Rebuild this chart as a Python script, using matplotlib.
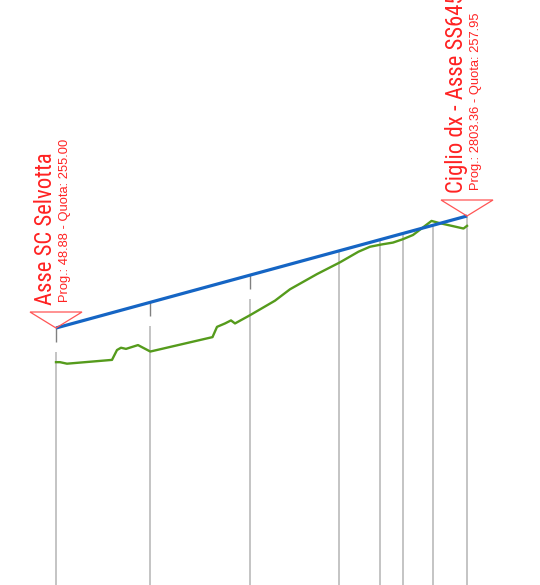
import matplotlib
matplotlib.use("Agg")
import matplotlib.pyplot as plt
from matplotlib.transforms import offset_copy
from matplotlib.patches import Polygon
from matplotlib import font_manager

# ---- data ----
# design line (blue): progressive (m) and elevation (m)
design_prog = [48.88, 2803.36]
design_quota = [255.00, 257.95]

# terrain profile (green)
terrain_prog = [48.88, 75.7, 122.6, 424.2, 457.7, 484.5, 518.0, 598.4, 680.9,
                1097.7, 1127.9, 1181.5, 1221.7, 1248.5, 1350.4, 1516.6, 1617.1,
                1798.0, 1952.2, 2076.2, 2153.0, 2230.4, 2307.5, 2374.5, 2441.5,
                2565.6, 2622.5, 2780.0, 2803.36]
terrain_quota = [254.10, 254.10, 254.06, 254.16, 254.42, 254.48, 254.45, 254.55, 254.38,
                 254.76, 255.03, 255.12, 255.20, 255.12, 255.34, 255.72, 256.02,
                 256.42, 256.73, 257.01, 257.14, 257.20, 257.25, 257.34, 257.45,
                 257.82, 257.76, 257.62, 257.69]

# stations (vertical grid lines)
station_prog = [48.88, 680.9, 1350.4, 1943.5, 2221.6, 2371.1, 2573.5, 2803.36]
gapped_stations = [48.88, 680.9, 1350.4]

# end labels
label_titles = ["Asse SC Selvotta", "Ciglio dx - Asse SS645"]
label_prog = [48.88, 2803.36]
label_quota = [255.00, 257.95]

# ---- pick a narrow font if one is installed ----
installed = {f.name for f in font_manager.fontManager.ttflist}
narrow_family = "Liberation Sans"
narrow_stretch = "normal"
for name in ["Liberation Sans Narrow", "Arial Narrow", "Roboto Condensed",
             "Open Sans Condensed", "Noto Sans Display Condensed"]:
    if name in installed:
        narrow_family = name
        break
else:
    for f in font_manager.fontManager.ttflist:
        if f.name in ("Noto Sans", "Open Sans", "Roboto") and \
                str(f.stretch) in ("condensed", "semi-condensed", "extra-condensed", "75", "87.5"):
            narrow_family = f.name
            narrow_stretch = "condensed"
            break

# ---- figure ----
W, H, DPI = 540, 585, 100
fig = plt.figure(figsize=(W / DPI, H / DPI), dpi=DPI)
ax = fig.add_axes([0, 0, 1, 1])
ax.axis("off")
xlim = (-326.43, 3292.60)
ylim = (248.231, 263.639)
ax.set_xlim(*xlim)
ax.set_ylim(*ylim)
sx = (xlim[1] - xlim[0]) / W   # data units per pixel
sy = (ylim[1] - ylim[0]) / H


def design_at(p):
    t = (p - design_prog[0]) / (design_prog[1] - design_prog[0])
    return design_quota[0] + t * (design_quota[1] - design_quota[0])


# vertical station lines
for p in station_prog:
    ytop = design_at(p)
    if p in gapped_stations:
        y1 = ytop - 14 * sy
        y2 = y1 - 10 * sy
        ax.plot([p, p], [ytop, y1], color="#808080", lw=1.0, zorder=1,
                solid_capstyle="butt")
        ax.plot([p, p], [y2, ylim[0]], color="#b4b4b4", lw=1.1, zorder=1,
                solid_capstyle="butt")
    else:
        ax.plot([p, p], [ytop, ylim[0]], color="#b4b4b4", lw=1.1, zorder=1,
                solid_capstyle="butt")

# terrain & design
ax.plot(terrain_prog, terrain_quota, color="#559b1c", lw=1.7, zorder=3,
        solid_joinstyle="round")
ax.plot(design_prog, design_quota, color="#1565c4", lw=2.3, zorder=4,
        solid_capstyle="butt")

red = "#ff2222"
titles = []
for title, p, q in zip(label_titles, label_prog, label_quota):
    tri = Polygon([(p - 26 * sx, q + 16 * sy), (p + 26 * sx, q + 16 * sy), (p, q)],
                  closed=True, facecolor="none", edgecolor="#ff5555", lw=0.9, zorder=5)
    ax.add_patch(tri)
    t1 = offset_copy(ax.transData, fig=fig, x=-4, y=23, units="dots")
    titles.append(ax.text(p, q, title, transform=t1, rotation=90, rotation_mode="anchor",
                          ha="left", va="baseline", color=red, fontsize=17,
                          family=[narrow_family, "Liberation Sans", "DejaVu Sans"],
                          fontstretch=narrow_stretch))
    t2 = offset_copy(ax.transData, fig=fig, x=12, y=26, units="dots")
    ax.text(p, q, "Prog.: %.2f - Quota: %.2f" % (p, q), transform=t2, rotation=90,
            rotation_mode="anchor", ha="left", va="baseline", color=red, fontsize=9.3,
            family=["Liberation Sans", "DejaVu Sans"])

# fit the title size so "Asse SC Selvotta" is ~153 px long, as in the reference
renderer = fig.canvas.get_renderer()
length = titles[0].get_window_extent(renderer).height
fs = 17 * 153.0 / length
for t in titles:
    t.set_fontsize(fs)

fig.savefig("out.png", dpi=DPI, facecolor="white")
